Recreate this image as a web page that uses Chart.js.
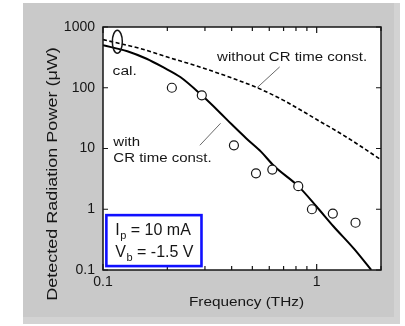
<!DOCTYPE html>
<html><head><meta charset="utf-8">
<script src="https://cdn.jsdelivr.net/npm/chart.js@4.4.0/dist/chart.umd.min.js"></script>
<style>html,body{margin:0;padding:0;background:#fff;overflow:hidden}#wrap{width:405px;height:326px}</style>
</head><body><div id="wrap"><canvas id="c" width="405" height="326"></canvas></div>
<script>
// ---- data ----
const measFreq  = [0.21, 0.29, 0.41, 0.52, 0.62, 0.82, 0.95, 1.19, 1.52];
const measPower = [100, 75, 11.3, 3.9, 4.5, 2.4, 1.0, 0.85, 0.6];

const withFreq  = [0.1, 0.13, 0.16, 0.19, 0.23, 0.29, 0.35, 0.4, 0.47, 0.55, 0.63, 0.82, 1.0, 1.2, 1.5, 1.8];
const withPower = [500, 400, 300, 220, 150, 75, 40, 25, 14.5, 8.8, 5.2, 2.4, 1.1, 0.52, 0.22, 0.1];

const withoutFreq  = [0.1, 0.15, 0.2, 0.286, 0.4, 0.527, 0.7, 0.841, 1.0, 1.3, 1.6, 2.0];
const withoutPower = [620, 440, 320, 218, 145, 100, 62, 43, 30, 17.5, 11, 6.5];

const xTickValues = [0.1,0.2,0.3,0.4,0.5,0.6,0.7,0.8,0.9,1,2];
const xTickLabels = ['0.1','','','','','','','','','1',''];
const yTickValues = [0.1,1,10,100,1000];
const yTickLabels = ['0.1','1','10','100','1000'];

const FONT = "'Liberation Sans', Arial, Helvetica, sans-serif";
const INK = '#161616';

function pts(xs, ys){ return xs.map((x,i)=>({x:x, y:ys[i]})); }

// annotation placement (data coordinates)
const notes = {
  calLoop: {f:0.1167, p:571, rx:5, ry:11.5},
  cal: {f:0.1109, p:160, text:'cal.'},
  without: {f:0.342, p:273, text:'without CR time const.'},
  withoutLeader: [[0.671,220],[0.527,100.7]],
  with1: {f:0.1118, p:10.9, text:'with'},
  with2: {f:0.1118, p:5.96, text:'CR time const.'},
  withLeader: [[0.355,26],[0.284,11.3]],
  box: {f0:0.1037, f1:0.289, p0:0.8, p1:0.116},
  box1: {f:0.1142, p:0.375},
  box2: {f:0.1142, p:0.165}
};

function stretchText(ctx, text, x, y, size, sx){
  ctx.save();
  ctx.translate(x, y);
  ctx.scale(sx, 1);
  ctx.font = size + 'px ' + FONT;
  ctx.textAlign = 'left';
  ctx.textBaseline = 'alphabetic';
  ctx.fillText(text, 0, 0);
  ctx.restore();
}

const decor = {
  id: 'decor',
  beforeDraw(chart){
    const ctx = chart.ctx, a = chart.chartArea;
    ctx.save();
    ctx.fillStyle = '#ffffff';
    ctx.fillRect(0,0,chart.width,chart.height);
    ctx.fillStyle = '#c9c9c9';
    ctx.fillRect(23,3,377,321);
    ctx.fillStyle = '#d3d3d3';
    ctx.fillRect(23,317,377,7);
    ctx.fillRect(394,3,6,321);
    ctx.fillStyle = '#ffffff';
    ctx.fillRect(a.left, a.top, a.right-a.left, a.bottom-a.top);
    ctx.restore();
  },
  afterDatasetsDraw(chart){
    const ctx = chart.ctx, a = chart.chartArea;
    const xs = chart.scales.x, ys = chart.scales.y;
    const X = v => xs.getPixelForValue(v), Y = v => ys.getPixelForValue(v);
    ctx.save();
    // frame
    ctx.strokeStyle = INK; ctx.lineWidth = 1.5;
    ctx.strokeRect(a.left, a.top, a.right-a.left, a.bottom-a.top);
    // ticks
    ctx.lineWidth = 1.2;
    ctx.beginPath();
    xTickValues.forEach((v,i)=>{
      const px = X(v), len = xTickLabels[i] ? 6 : 4;
      ctx.moveTo(px, a.bottom); ctx.lineTo(px, a.bottom-len);
      ctx.moveTo(px, a.top); ctx.lineTo(px, a.top+len);
    });
    yTickValues.forEach(v=>{
      const py = Y(v);
      ctx.moveTo(a.left, py); ctx.lineTo(a.left+5, py);
      ctx.moveTo(a.right, py); ctx.lineTo(a.right-5, py);
    });
    ctx.stroke();

    ctx.fillStyle = INK;
    // cal loop
    const c = notes.calLoop;
    ctx.lineWidth = 1.5;
    ctx.beginPath();
    ctx.ellipse(X(c.f), Y(c.p), c.rx, c.ry, 0, 0, Math.PI*2);
    ctx.stroke();
    stretchText(ctx, notes.cal.text, X(notes.cal.f), Y(notes.cal.p), 12.5, 1.25);
    // without label + leader
    stretchText(ctx, notes.without.text, X(notes.without.f), Y(notes.without.p), 12.5, 1.2);
    stretchText(ctx, notes.with1.text, X(notes.with1.f), Y(notes.with1.p), 12.5, 1.2);
    stretchText(ctx, notes.with2.text, X(notes.with2.f), Y(notes.with2.p), 12.5, 1.2);
    ctx.lineWidth = 0.8; ctx.strokeStyle = '#444';
    [notes.withoutLeader, notes.withLeader].forEach(l=>{
      ctx.beginPath();
      ctx.moveTo(X(l[0][0]), Y(l[0][1]));
      ctx.lineTo(X(l[1][0]), Y(l[1][1]));
      ctx.stroke();
    });
    // blue box
    const b = notes.box;
    const bx0 = X(b.f0), bx1 = X(b.f1), by0 = Y(b.p0), by1 = Y(b.p1);
    ctx.fillStyle = '#ffffff';
    ctx.fillRect(bx0, by0, bx1-bx0, by1-by0);
    ctx.strokeStyle = '#1010ff'; ctx.lineWidth = 2.6;
    ctx.strokeRect(bx0, by0, bx1-bx0, by1-by0);
    ctx.fillStyle = INK;
    ctx.textAlign = 'left'; ctx.textBaseline = 'alphabetic';
    function subLine(x, y, main, sub, rest){
      ctx.font = '16px ' + FONT;
      ctx.fillText(main, x, y);
      let w = ctx.measureText(main).width;
      ctx.font = '11px ' + FONT;
      ctx.fillText(sub, x + w + 0.5, y + 4);
      w += ctx.measureText(sub).width + 0.5;
      ctx.font = '16px ' + FONT;
      ctx.fillText(rest, x + w, y);
    }
    subLine(X(notes.box1.f), Y(notes.box1.p), 'I', 'p', ' = 10 mA');
    subLine(X(notes.box2.f), Y(notes.box2.p), 'V', 'b', ' = -1.5 V');

    // axis titles
    ctx.save();
    ctx.translate(57, 174);
    ctx.rotate(-Math.PI/2);
    ctx.scale(1.2, 1);
    ctx.font = '15px ' + FONT;
    ctx.textAlign = 'center';
    ctx.fillText('Detected Radiation Power (\u03bcW)', 0, 0);
    ctx.restore();
    ctx.save();
    ctx.translate(246.5, 305.5);
    ctx.scale(1.18, 1);
    ctx.font = '13px ' + FONT;
    ctx.textAlign = 'center';
    ctx.fillText('Frequency (THz)', 0, 0);
    ctx.restore();
    ctx.restore();
  }
};

new Chart(document.getElementById('c'), {
  type: 'scatter',
  data: {
    datasets: [
      { label: 'measured', data: pts(measFreq, measPower), showLine: false,
        pointStyle: 'circle', pointRadius: 4.5, pointBorderWidth: 1.2,
        pointBorderColor: INK, pointBackgroundColor: '#ffffff', order: 0 },
      { label: 'with CR time const.', data: pts(withFreq, withPower), showLine: true,
        borderColor: '#000', borderWidth: 2, pointRadius: 0, cubicInterpolationMode: 'monotone', order: 1 },
      { label: 'without CR time const.', data: pts(withoutFreq, withoutPower), showLine: true,
        borderColor: '#000', borderWidth: 1.6, borderDash: [4, 2.5], pointRadius: 0, cubicInterpolationMode: 'monotone', order: 2 }
    ]
  },
  options: {
    responsive: false, devicePixelRatio: 1, animation: false,
    layout: { padding: { top: 27, right: 24, left: 0, bottom: 0 } },
    plugins: { legend: { display: false }, tooltip: { enabled: false } },
    scales: {
      x: {
        type: 'logarithmic', position: 'bottom', min: 0.1, max: 2,
        grid: { display: false, drawTicks: false }, border: { display: false },
        afterBuildTicks: s => { s.ticks = xTickValues.map(v => ({ value: v })); },
        afterFit: s => { s.height = 56; },
        ticks: { autoSkip: false, maxRotation: 0, minRotation: 0, padding: 4, color: INK,
          font: { family: FONT, size: 14 },
          callback: (v, i) => xTickLabels[i] }
      },
      y: {
        type: 'logarithmic', position: 'left', min: 0.1, max: 1000,
        grid: { display: false, drawTicks: false }, border: { display: false },
        afterBuildTicks: s => { s.ticks = yTickValues.map(v => ({ value: v })); },
        afterFit: s => { s.width = 103; },
        ticks: { autoSkip: false, padding: 8, color: INK,
          font: { family: FONT, size: 14 },
          callback: (v, i) => yTickLabels[i] }
      }
    }
  },
  plugins: [decor]
});
</script>
</body></html>
